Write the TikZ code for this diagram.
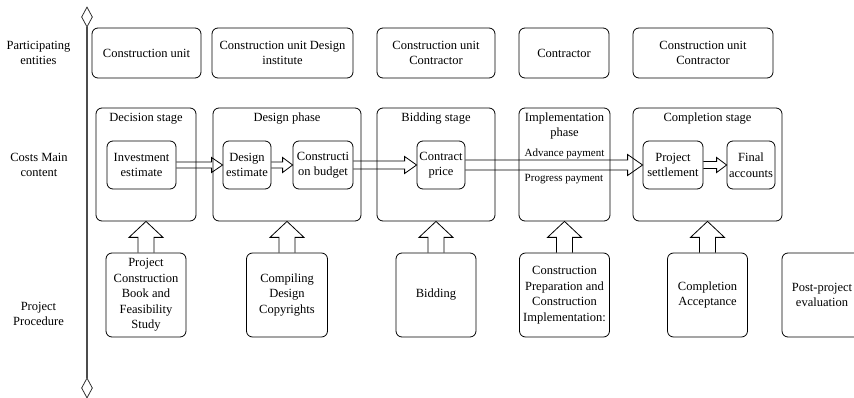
\documentclass[tikz,border=0pt]{standalone}
\usepackage{fontspec}
\setmainfont{Liberation Serif}
\usetikzlibrary{calc,shapes.geometric}
\tikzset{
  box/.style={draw, rounded corners=6pt, line width=0.8pt, align=center, inner sep=1pt,
    font=\fontsize{12.5}{15.5}\selectfont},
  lbl/.style={align=center, inner sep=0pt, font=\fontsize{12.5}{15.5}\selectfont},
  sml/.style={align=center, inner sep=0pt, font=\fontsize{11}{13}\selectfont},
  arr/.style={draw, line width=0.8pt, line join=miter},
  axis/.style={draw=black!70, line width=1.1pt},
  dia/.style={diamond, draw=black!80, line width=0.8pt, inner sep=0pt, minimum width=11pt, minimum height=20pt},
}
\newcommand{\harr}[5]{\path[arr] let \p1=(#1), \p2=(#2) in
  (\x1,\y1+#3) -- (\x2-#5,\y1+#3) -- (\x2-#5,\y1+#4) -- (\x2,\y1) --
  (\x2-#5,\y1-#4) -- (\x2-#5,\y1-#3) -- (\x1,\y1-#3);}
\newcommand{\varr}[5]{\path[arr] let \p1=(#1), \p2=(#2) in
  (\x1-#3,\y1) -- (\x1-#3,\y2-#5) -- (\x1-#4,\y2-#5) -- (\x1,\y2) --
  (\x1+#4,\y2-#5) -- (\x1+#3,\y2-#5) -- (\x1+#3,\y1);}
\begin{document}
\begin{tikzpicture}[x=1pt,y=-1pt]
\useasboundingbox (0,0) rectangle (854,398);
% axis
\node[dia] (dtop) at (87,17) {};
\node[dia] (dbot) at (87,388) {};
\draw[axis] (dtop.south) -- (dbot.north);
% left labels
\node[lbl] (l1) at (38.5,53) {Participating\\entities};
\node[lbl] (l2) at (39,165) {Costs Main\\content};
\node[lbl] (l3) at (38.5,314) {Project\\Procedure};
% row 1
\node[box, minimum width=109pt, minimum height=50pt] (e1) at (146.5,53) {Construction unit};
\node[box, minimum width=141pt, minimum height=50pt] (e2) at (282.5,53) {Construction unit Design\\institute};
\node[box, minimum width=118pt, minimum height=50pt] (e3) at (436,53) {Construction unit\\Contractor};
\node[box, minimum width=90pt, minimum height=50pt] (e4) at (564,53) {Contractor};
\node[box, minimum width=140pt, minimum height=50pt] (e5) at (703,53) {Construction unit\\Contractor};
% row 2 stages
\node[box, minimum width=100pt, minimum height=113pt] (s1) at (146,164.5) {};
\node[box, minimum width=148pt, minimum height=113pt] (s2) at (287,164.5) {};
\node[box, minimum width=118pt, minimum height=113pt] (s3) at (436,164.5) {};
\node[box, minimum width=91pt, minimum height=113pt] (s4) at (564.5,164.5) {};
\node[box, minimum width=149pt, minimum height=113pt] (s5) at (707.5,164.5) {};
\node[lbl] (t1) at (146,119) {Decision stage};
\node[lbl] (t2) at (287,119) {Design phase};
\node[lbl] (t3) at (436,119) {Bidding stage};
\node[lbl] (t4) at (564.5,126) {Implementation\\phase};
\node[lbl] (t5) at (707.5,119) {Completion stage};
\node[sml] (adv) at (564.5,154) {Advance payment};
\node[sml] (prg) at (564,179) {Progress payment};
% inner boxes
\node[box, minimum width=69pt, minimum height=48pt] (i1) at (141.5,165) {Investment\\estimate};
\node[box, minimum width=48pt, minimum height=48pt] (i2) at (247,165) {Design\\estimate};
\node[box, minimum width=60pt, minimum height=48pt] (i3) at (323,165) {Constructi\\on budget};
\node[box, minimum width=48pt, minimum height=48pt] (i4) at (441,165) {Contract\\price};
\node[box, minimum width=60pt, minimum height=48pt] (i5) at (673,165) {Project\\settlement};
\node[box, minimum width=48pt, minimum height=48pt] (i6) at (751,165) {Final\\accounts};
% row 3
\node[box, minimum width=80pt, minimum height=84pt] (p1) at (146,295) {Project\\Construction\\Book and\\Feasibility\\Study};
\node[box, minimum width=81pt, minimum height=84pt] (p2) at (287,295) {Compiling\\Design\\Copyrights};
\node[box, minimum width=80pt, minimum height=84pt] (p3) at (436,295) {Bidding};
\node[box, minimum width=90pt, minimum height=84pt] (p4) at (564.5,295) {Construction\\Preparation and\\Construction\\Implementation:};
\node[box, minimum width=80pt, minimum height=84pt] (p5) at (707.5,295) {Completion\\Acceptance};
\node[box, minimum width=80pt, minimum height=84pt] (p6) at (822,295) {Post-project\\evaluation};
% horizontal block arrows
\harr{i1.east}{i2.west}{3}{7.5}{11}
\harr{i2.east}{i3.west}{3}{7.5}{10}
\harr{i3.east}{i4.west}{4}{8.5}{12}
\harr{i4.east}{i5.west}{5}{10.5}{15}
\harr{i5.east}{i6.west}{3.5}{7.5}{10}
% vertical block arrows
\varr{p1.north}{s1.south}{8}{17}{16}
\varr{p2.north}{s2.south}{8}{17}{16}
\varr{p3.north}{s3.south}{8}{17}{16}
\varr{p4.north}{s4.south}{8}{17}{16}
\varr{p5.north}{s5.south}{8}{17}{16}
\end{tikzpicture}
\end{document}
